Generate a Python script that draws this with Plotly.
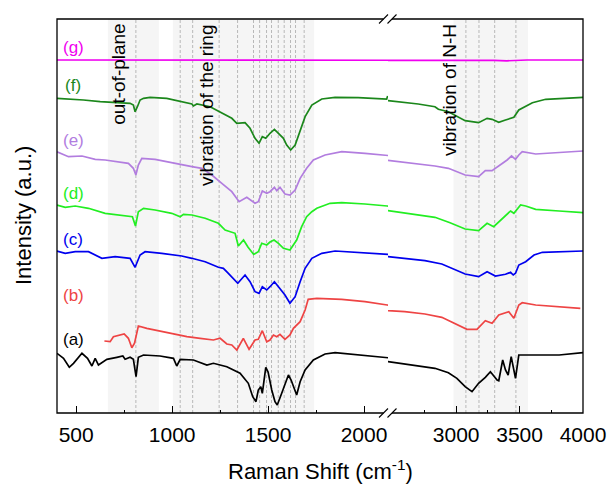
import plotly.graph_objects as go

FONT = "Liberation Sans, Arial, sans-serif"

# ---------------- data (wavenumber in cm-1, intensity in a.u.) ----------------
wn_a = [400, 434, 464, 486, 530, 559, 582, 599, 616, 660, 712, 743, 755, 781, 798, 812, 824, 851, 937, 1007,
        1024, 1042, 1111, 1181, 1215, 1285, 1354, 1397, 1420, 1437, 1449, 1462, 1470, 1488, 1500, 1519, 1536, 1548, 1571, 1588,
        1606, 1620, 1632, 1649, 1667, 1693, 1736, 1797, 1849, 2005, 2121, 2463, 2595, 2701, 2833, 2939, 3006, 3071, 3125, 3177,
        3230, 3270, 3323, 3336, 3367, 3389, 3410, 3434, 3452, 3468, 3494, 3601, 3812, 4000]
int_a = [59.7, 54.7, 45.7, 49.7, 59.7, 54.7, 47, 54.7, 48, 53.7, 55.7, 57, 53.7, 55.7, 53.7, 36.3, 55.7, 58, 57, 54.7,
         47, 53.7, 53, 48, 49.7, 46.3, 39.7, 29.7, 16.3, 11.3, 23, 26.3, 19.7, 45.7, 41, 23, 11.3, 8, 19.7, 29.7,
         38, 33, 26.3, 18, 31.3, 43, 53, 59, 60.3, 58, 55.7, 51.3, 49, 47, 44.7, 40.3, 34.7, 26.3, 21.3, 29.7,
         35.7, 41.3, 33, 32.3, 53, 43, 38, 56.3, 45, 34.7, 58, 58, 58, 60.3]

wn_b = [647, 677, 694, 750, 772, 790, 804, 824, 868, 972, 1077, 1146, 1215, 1250, 1285, 1311, 1337, 1371, 1401, 1432,
        1449, 1470, 1493, 1510, 1528, 1545, 1562, 1588, 1614, 1632, 1667, 1693, 1709, 1754, 1884, 2005, 2121, 2463, 2595, 2754,
        2887, 2992, 3085, 3164, 3230, 3283, 3336, 3415, 3455, 3494, 3521, 3627, 3812, 3979]
int_b = [72, 71.3, 76.3, 79, 74.7, 65.3, 69.7, 87, 84.7, 80.7, 76.3, 74.7, 73, 74.7, 69, 68, 63, 74.7, 63.7, 73,
         73.7, 82.3, 71.3, 73, 78, 76.3, 78.7, 73.7, 78, 84.7, 91.3, 103, 113.7, 114.7, 113.7, 111.3, 108, 102.3, 101.3, 99,
         95.7, 89.7, 83.7, 83.7, 92.3, 89.7, 98, 101.3, 94.7, 108, 110.3, 108, 106.3, 104.7]

wn_c = [400, 443, 495, 564, 634, 703, 781, 807, 833, 859, 946, 1050, 1103, 1172, 1241, 1267, 1293, 1311, 1342, 1380,
        1406, 1432, 1453, 1470, 1493, 1510, 1533, 1554, 1588, 1614, 1641, 1667, 1693, 1728, 1780, 1849, 2005, 2121, 2463, 2595,
        2754, 2887, 2992, 3071, 3177, 3244, 3310, 3389, 3429, 3450, 3468, 3494, 3548, 3614, 3680, 4000]
int_c = [162, 159.7, 161.3, 161.3, 154.7, 156.3, 154.7, 145.7, 158, 161.3, 159.7, 157, 154.7, 151.3, 145.7, 144.7, 139.7, 136.3, 129.7, 138,
         131.3, 121.3, 119.7, 126.3, 123, 126.3, 131.3, 126.3, 118, 109.7, 116.3, 131.3, 144.7, 154.7, 159.7, 162, 160.3, 159, 156.3, 154.7,
         152.3, 149, 143, 139, 136.3, 141.3, 137, 138.7, 140.7, 138, 139.7, 148, 151.3, 158, 160.7, 162]

wn_d = [400, 443, 495, 564, 651, 738, 793, 809, 824, 851, 911, 998, 1042, 1059, 1103, 1172, 1241, 1276, 1328, 1345,
        1372, 1395, 1425, 1449, 1467, 1493, 1510, 1531, 1554, 1580, 1614, 1649, 1675, 1701, 1728, 1754, 1823, 1884, 2005, 2121,
        2463, 2569, 2701, 2833, 2952, 2992, 3071, 3177, 3244, 3296, 3363, 3429, 3455, 3508, 3548, 3627, 3812, 4000]
int_d = [208, 205.7, 207, 204.7, 199.7, 198, 196.3, 187, 201.3, 204.7, 203, 199.7, 196.3, 198.7, 198, 194.7, 189.7, 183, 179.7, 167,
         173, 166, 158.5, 161.3, 169.7, 168, 171, 173, 169.7, 164.7, 163, 173, 186.3, 196.3, 201.3, 204.7, 209.7, 210.3, 209, 207,
         202.3, 200.3, 198, 195.7, 190.3, 188, 184, 182.3, 189.7, 186.3, 194.7, 202, 199.7, 208, 207, 203.7, 202, 200.3]

wn_e = [400, 460, 530, 599, 651, 703, 772, 798, 811, 824, 842, 911, 998, 1050, 1103, 1155, 1207, 1259, 1311, 1349,
        1389, 1432, 1449, 1470, 1493, 1510, 1533, 1545, 1562, 1588, 1614, 1641, 1667, 1701, 1736, 1797, 1884, 2005, 2121, 2463,
        2569, 2701, 2833, 2939, 3006, 3071, 3177, 3230, 3283, 3349, 3402, 3437, 3468, 3494, 3521, 3627, 3812, 4000]
int_e = [261.3, 256.3, 257, 253.7, 253, 251.3, 249.7, 244.7, 238, 248, 254.7, 253.7, 250.3, 248, 246.3, 244.7, 238, 229.7, 221.3, 211.3,
         215.7, 209.7, 211.3, 222, 219.7, 221.3, 225.7, 222.3, 225.7, 219, 218, 223, 234.7, 244.7, 253, 258, 261.3, 259.7, 258, 253,
         251.3, 249, 247, 244.7, 241.3, 238, 236.3, 242.3, 242.3, 248, 253, 257, 253.7, 258, 261.3, 259, 260.3, 262]

wn_f = [400, 469, 538, 625, 712, 781, 798, 807, 819, 833, 851, 885, 972, 1059, 1103, 1111, 1129, 1198, 1250, 1285,
        1311, 1337, 1380, 1406, 1432, 1453, 1470, 1488, 1510, 1533, 1554, 1580, 1597, 1618, 1641, 1667, 1693, 1728, 1780, 1849,
        1970, 2118, 2122, 2463, 2569, 2701, 2833, 2860, 2939, 3006, 3071, 3177, 3244, 3283, 3336, 3389, 3455, 3494, 3548, 3601,
        3706, 4000]
int_f = [314.7, 314, 313, 311.3, 310.3, 309.7, 308, 301.3, 306.3, 313, 314.7, 315.7, 314.7, 311.3, 309, 307, 309, 306.3, 301.3, 298,
         294.7, 289.7, 290.3, 284.7, 274.7, 269.7, 276.3, 274.7, 279.7, 283.7, 279.7, 274.7, 268, 263, 268, 283, 296.3, 308, 314, 315.7,
         315.3, 314, 316.3, 312.3, 311, 309, 306.3, 303.7, 301.3, 296.3, 292.3, 290.3, 294.7, 293.7, 290.7, 293, 295.7, 303, 307, 310.3,
         313.7, 315.7]

wn_g = [400, 1000, 1700, 2125, 2463, 3300, 3400, 3480, 3560, 4000]
int_g = [353, 353, 353, 353, 353, 352.6, 352.2, 352.4, 353, 353]

series_names = ["(a)", "(b)", "(c)", "(d)", "(e)", "(f)", "(g)"]
series_wn = [wn_a, wn_b, wn_c, wn_d, wn_e, wn_f, wn_g]
series_int = [int_a, int_b, int_c, int_d, int_e, int_f, int_g]

# band markers (cm-1)
shade_left = [(665, 931), (1004, 1740)]
shade_right = [(2979, 3566)]
dash_left = [811, 1042, 1107, 1245, 1341, 1424, 1456, 1492, 1518, 1553, 1584, 1617, 1643, 1688]
dash_right = [3077, 3180, 3304, 3471]

left_ticks = [500, 1000, 1500, 2000]
left_minor = [750, 1250, 1750]
right_ticks = [3000, 3500, 4000]
right_minor = [2750, 3250, 3750]

# ---------------- styling ----------------
colors = ["#000000", "#ee4444", "#0000ee", "#22ee22", "#b27ddf", "#1b871b", "#f000f0"]
label_pos = [74, 118, 174, 220, 273, 328, 366]   # label heights in intensity units
BREAK = 0.6293

fig = go.Figure()
for wn, inten, col in zip(series_wn, series_int, colors):
    for xa in ("x", "x2"):
        fig.add_trace(go.Scatter(x=wn, y=inten, mode="lines", xaxis=xa, yaxis="y",
                                 line=dict(color=col, width=1.7), showlegend=False, hoverinfo="skip"))

shapes = []
for x0, x1 in shade_left:
    shapes.append(dict(type="rect", xref="x", yref="paper", x0=x0, x1=x1, y0=0, y1=1,
                       fillcolor="#f5f5f5", line=dict(width=0), layer="below"))
for x0, x1 in shade_right:
    shapes.append(dict(type="rect", xref="x2", yref="paper", x0=x0, x1=x1, y0=0, y1=1,
                       fillcolor="#f5f5f5", line=dict(width=0), layer="below"))
for v in dash_left:
    shapes.append(dict(type="line", xref="x", yref="paper", x0=v, x1=v, y0=0, y1=1,
                       line=dict(color="#b8b8b8", width=1, dash="3px,2px"), layer="below"))
for v in dash_right:
    shapes.append(dict(type="line", xref="x2", yref="paper", x0=v, x1=v, y0=0, y1=1,
                       line=dict(color="#b8b8b8", width=1, dash="3px,2px"), layer="below"))
# frame
shapes.append(dict(type="rect", xref="paper", yref="paper", x0=0, x1=1, y0=0, y1=1,
                   line=dict(color="black", width=1.3), fillcolor="rgba(0,0,0,0)", layer="above"))
# axis-break marks
for yy in (0, 1):
    shapes.append(dict(type="line", xref="paper", yref="paper", xsizemode="pixel", ysizemode="pixel",
                       xanchor=BREAK, yanchor=yy, x0=-4.5, x1=4, y0=0, y1=0,
                       line=dict(color="white", width=3), layer="above"))
    for dx in (-9, -0.5):
        shapes.append(dict(type="line", xref="paper", yref="paper", xsizemode="pixel", ysizemode="pixel",
                           xanchor=BREAK, yanchor=yy, x0=dx, x1=dx + 9, y0=-4.5, y1=4.5,
                           line=dict(color="black", width=1.1), layer="above"))

annotations = []
for name, col, yl in zip(series_names, colors, label_pos):
    annotations.append(dict(text=name, xref="x", yref="y", x=484, y=yl, showarrow=False,
                            font=dict(family=FONT, size=17, color=col)))
for txt, xr, xv in (("out-of-plane", "x", 719), ("vibration of the ring", "x", 1177), ("vibration of N-H", "x2", 2944)):
    annotations.append(dict(text=txt, xref=xr, yref="paper", x=xv, y=1, yshift=-3, yanchor="top",
                            textangle=-90, showarrow=False, font=dict(family=FONT, size=19, color="black")))
annotations.append(dict(text="Raman Shift (cm<sup>-1</sup>)", xref="paper", yref="paper", x=0.5, y=0,
                        yshift=-57, yanchor="middle", showarrow=False, font=dict(family=FONT, size=22, color="black")))
annotations.append(dict(text="Intensity (a.u.)", xref="paper", yref="paper", x=0, y=0.5, xshift=-34,
                        xanchor="center", textangle=-90, showarrow=False, font=dict(family=FONT, size=22, color="black")))

axis_common = dict(tickmode="array", ticks="inside", ticklen=7, tickwidth=1.2, tickcolor="black",
                   showgrid=False, zeroline=False, showline=False, ticklabelstandoff=7, automargin=False,
                   tickfont=dict(family=FONT, size=21, color="black"))

fig.update_layout(
    width=610, height=484, margin=dict(l=57, r=27, t=19, b=71, autoexpand=False),
    plot_bgcolor="white", paper_bgcolor="white", showlegend=False,
    xaxis=dict(domain=[0, BREAK], range=[400, 2125], tickvals=left_ticks, anchor="y",
               minor=dict(tickmode="array", tickvals=left_minor, ticks="inside", ticklen=3.5, tickcolor="black", showgrid=False),
               **axis_common),
    xaxis2=dict(domain=[BREAK, 1], range=[2463, 4000], tickvals=right_ticks, anchor="y",
                minor=dict(tickmode="array", tickvals=right_minor, ticks="inside", ticklen=3.5, tickcolor="black", showgrid=False),
                **axis_common),
    yaxis=dict(range=[0, 394], showticklabels=False, ticks="", showgrid=False, zeroline=False, showline=False,
               anchor="x", automargin=False),
    shapes=shapes, annotations=annotations,
)

fig.write_html("out.html", config={"displayModeBar": False},
               post_script="document.body.style.margin='0px';document.body.style.overflow='hidden';")
